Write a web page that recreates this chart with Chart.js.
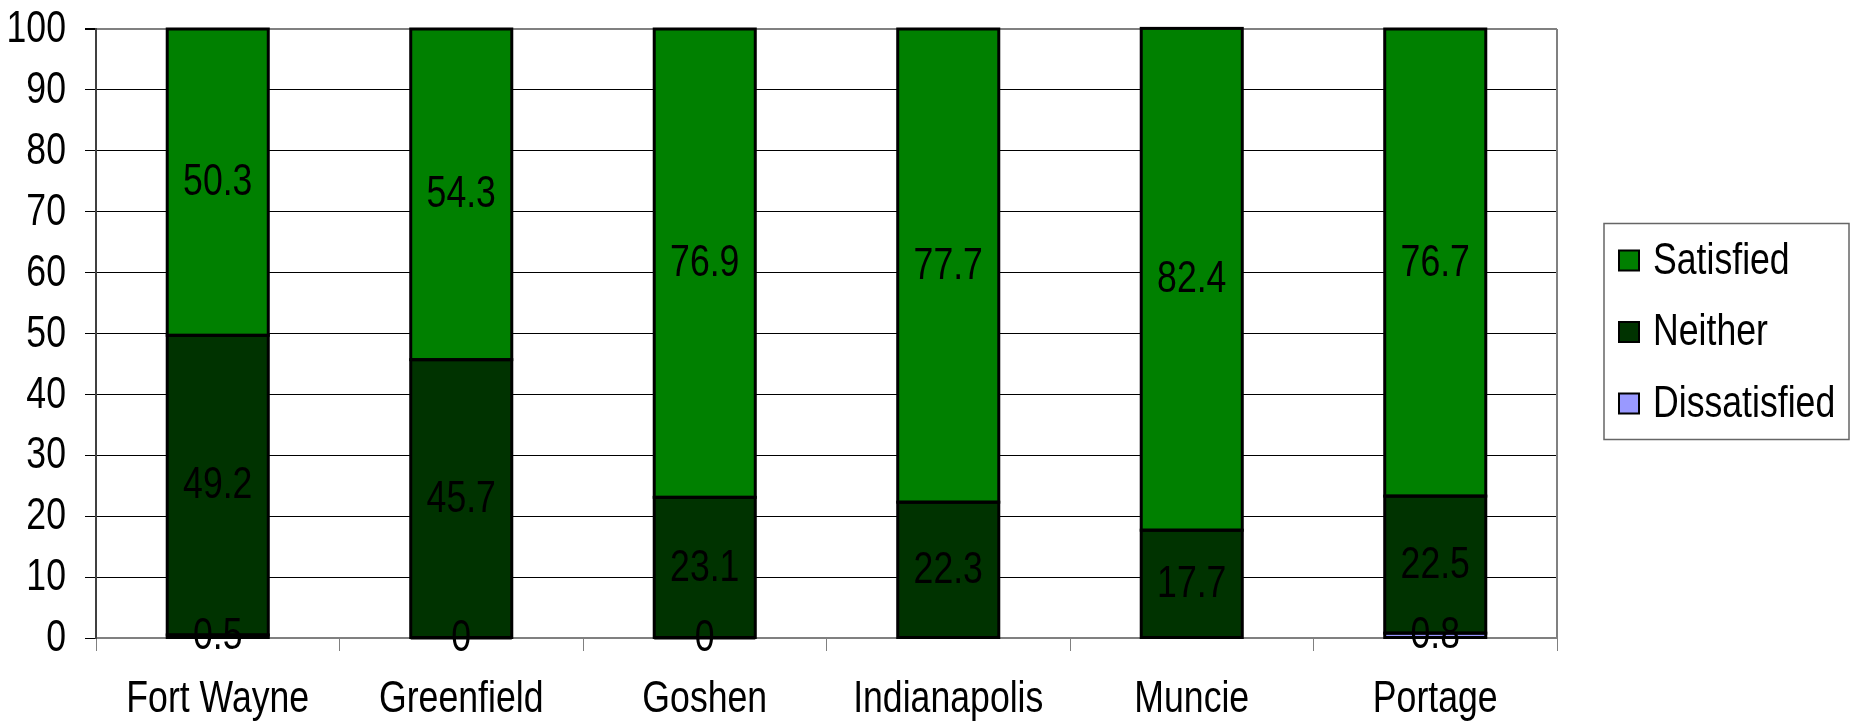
<!DOCTYPE html>
<html>
<head>
<meta charset="utf-8">
<script src="https://cdn.jsdelivr.net/npm/chart.js@4.4.1/dist/chart.umd.min.js"></script>
<style>
  html, body { margin: 0; padding: 0; background: #fff; }
</style>
</head>
<body>
<canvas id="chart" width="1856" height="728"></canvas>
<script>
// Satisfaction by city (percent)
const cities = ['Fort Wayne', 'Greenfield', 'Goshen', 'Indianapolis', 'Muncie', 'Portage'];
const dissatisfied = [0.5, 0, 0, null, null, 0.8];
const neither = [49.2, 45.7, 23.1, 22.3, 17.7, 22.5];
const satisfied = [50.3, 54.3, 76.9, 77.7, 82.4, 76.7];
const yMin = 0, yMax = 100, yStep = 10;

const FONT = "'Liberation Sans', Arial, sans-serif";
const FONT_SIZE = 44;
const SQUEEZE = 0.81; // condensed look for all text

// draw text squeezed horizontally around (x, y)
function narrowText(ctx, text, x, y, align) {
    ctx.save();
    ctx.font = FONT_SIZE + 'px ' + FONT;
    ctx.fillStyle = '#000';
    ctx.textBaseline = 'middle';
    ctx.textAlign = align;
    ctx.translate(x, y);
    ctx.scale(SQUEEZE, 1);
    ctx.fillText(text, 0, 0);
    ctx.restore();
}

// tick labels for both axes, placed from the scales
const axisLabels = {
    id: 'axisLabels',
    afterDraw(chart) {
        const ctx = chart.ctx;
        const xs = chart.scales.x, ys = chart.scales.y;
        ys.ticks.forEach((t, i) => {
            narrowText(ctx, String(t.value), ys.right - 30, ys.getPixelForTick(i) + 1, 'right');
        });
        xs.ticks.forEach((t, i) => {
            narrowText(ctx, chart.data.labels[t.value], xs.getPixelForTick(i), xs.top + 62, 'center');
        });
    }
};

// black outline round every segment, then its value in the middle
const segmentLabels = {
    id: 'segmentLabels',
    afterDatasetsDraw(chart) {
        const ctx = chart.ctx;
        ctx.save();
        ctx.strokeStyle = '#000';
        ctx.lineWidth = 3;
        chart.data.datasets.forEach((ds, i) => {
            chart.getDatasetMeta(i).data.forEach((bar, j) => {
                if (ds.data[j] === null) return;
                const p = bar.getProps(['x', 'y', 'base', 'width'], true);
                const top = Math.min(p.y, p.base), bottom = Math.max(p.y, p.base);
                ctx.strokeRect(p.x - p.width / 2, top, p.width, bottom - top);
            });
        });
        ctx.restore();
        chart.data.datasets.forEach((ds, i) => {
            chart.getDatasetMeta(i).data.forEach((bar, j) => {
                const v = ds.data[j];
                if (v === null) return;
                const p = bar.getProps(['x', 'y', 'base'], true);
                narrowText(ctx, String(v), p.x, (p.y + p.base) / 2 + 1, 'center');
            });
        });
    }
};

// right edge of the plot area
const plotFrame = {
    id: 'plotFrame',
    beforeDatasetsDraw(chart) {
        const a = chart.chartArea;
        const ctx = chart.ctx;
        ctx.save();
        ctx.strokeStyle = '#808080';
        ctx.lineWidth = 2;
        ctx.beginPath();
        ctx.moveTo(a.right, a.top);
        ctx.lineTo(a.right, a.bottom);
        ctx.stroke();
        ctx.restore();
    }
};

// boxed legend on the right, top item = top of stack
const boxLegend = {
    id: 'boxLegend',
    afterDraw(chart) {
        const a = chart.chartArea;
        const ctx = chart.ctx;
        const items = chart.data.datasets.slice().reverse();
        const rowH = 71.5;
        const w = 245, h = 216;
        const x = a.right + 47;
        const y = (a.top + a.bottom) / 2 - h / 2 - 2;
        ctx.save();
        ctx.strokeStyle = '#666';
        ctx.lineWidth = 1.5;
        ctx.strokeRect(x, y, w, h);
        items.forEach((ds, k) => {
            const cy = y + 37 + k * rowH;
            ctx.fillStyle = ds.backgroundColor;
            ctx.fillRect(x + 15, cy - 10, 20, 20);
            ctx.strokeStyle = '#000';
            ctx.lineWidth = 2;
            ctx.strokeRect(x + 15, cy - 10, 20, 20);
            narrowText(ctx, ds.label, x + 49, cy + 1, 'left');
        });
        ctx.restore();
    }
};

new Chart(document.getElementById('chart'), {
    type: 'bar',
    data: {
        labels: cities,
        datasets: [
            { label: 'Dissatisfied', data: dissatisfied, backgroundColor: '#9999FF' },
            { label: 'Neither', data: neither, backgroundColor: '#003300' },
            { label: 'Satisfied', data: satisfied, backgroundColor: '#008000' }
        ].map(d => Object.assign(d, {
            borderWidth: 0,
            barPercentage: 0.415,
            categoryPercentage: 1
        }))
    },
    options: {
        responsive: false,
        animation: false,
        devicePixelRatio: 1,
        layout: { padding: { left: 85, right: 299, top: 29, bottom: 77 } },
        plugins: {
            legend: { display: false },
            tooltip: { enabled: false }
        },
        scales: {
            x: {
                stacked: true,
                grid: {
                    offset: true,
                    drawOnChartArea: false,
                    tickLength: 13,
                    color: '#808080'
                },
                border: { color: '#808080', width: 2 },
                ticks: { display: false, autoSkip: false }
            },
            y: {
                stacked: true,
                min: yMin,
                max: yMax,
                grid: {
                    color: c => (c.tick && (c.tick.value === yMax || c.tick.value === yMin)) ? '#808080' : '#000',
                    tickColor: '#000',
                    tickLength: 11,
                    lineWidth: c => (c.tick && c.tick.value === yMax) ? 2 : 1
                },
                border: { color: '#404040', width: 2 },
                ticks: { display: false, stepSize: yStep }
            }
        }
    },
    plugins: [plotFrame, segmentLabels, boxLegend, axisLabels]
});
</script>
</body>
</html>
